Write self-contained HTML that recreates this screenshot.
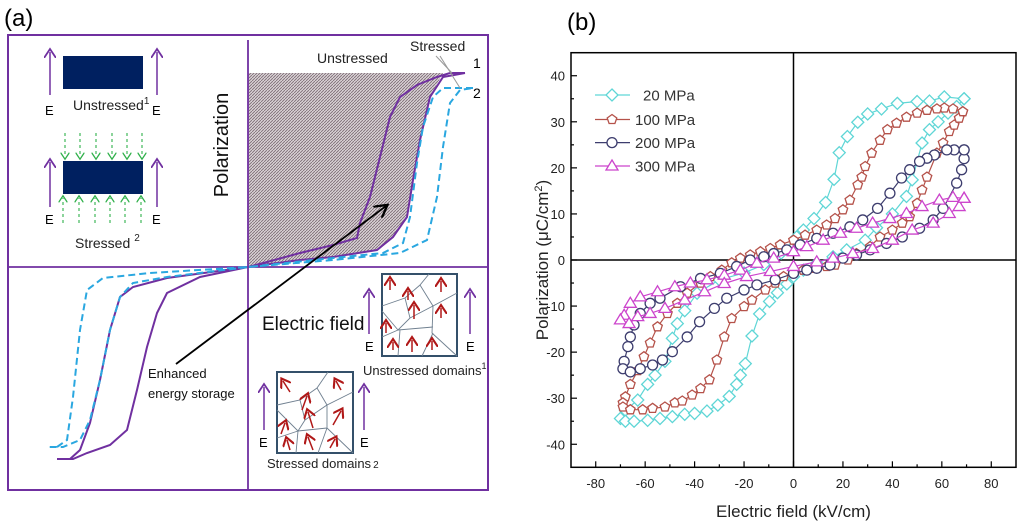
<!DOCTYPE html>
<html><head><meta charset="utf-8"><style>
html,body{margin:0;padding:0;background:#fff;}
svg{display:block;font-family:"Liberation Sans",Arial,sans-serif;}
</style></head><body>
<svg id="fig" width="1024" height="527" viewBox="0 0 1024 527">
<defs>
<pattern id="hatch" width="3" height="3" patternUnits="userSpaceOnUse"><rect width="3" height="3" fill="#d8d0d4"/><path d="M0,3 L3,0" stroke="#7a6a72" stroke-width="0.8"/></pattern>
<marker id="ah" markerWidth="8" markerHeight="8" refX="6" refY="4" orient="auto"><path d="M0,0 L7,4 L0,8" fill="none" stroke="#000" stroke-width="1.3"/></marker>
<marker id="ahp" markerWidth="8" markerHeight="8" refX="4" refY="4" orient="auto"><path d="M0,0 L6,4 L0,8" fill="none" stroke="#7030A0" stroke-width="1.2"/></marker>
<marker id="ahr" markerWidth="8" markerHeight="8" refX="4" refY="4" orient="auto"><path d="M0,0 L6,4 L0,8" fill="none" stroke="#b01818" stroke-width="1.4"/></marker>
<marker id="ahg" markerWidth="8" markerHeight="8" refX="4" refY="4" orient="auto"><path d="M0,0 L6,4 L0,8" fill="none" stroke="#2fb04a" stroke-width="1.2"/></marker>
</defs>

<!-- Panel (a) -->
<g>
<text x="4" y="26" font-size="24" font-family="Liberation Sans">(a)</text>
<rect x="8" y="35" width="480" height="455" fill="none" stroke="#7030A0" stroke-width="2"/>
<polygon points="248,73 443,73 430,97 420,140 413,180 407,217 393,237 377,250 333,257 300,260 248,267" fill="url(#hatch)"/>
<line x1="248" y1="40" x2="248" y2="490" stroke="#7030A0" stroke-width="1.8"/>
<line x1="8" y1="267" x2="488" y2="267" stroke="#7030A0" stroke-width="1.8"/>
<path d="M465,73 L450,73 L437,77 L417,85 L400,97 L390,117 L380,157 L370,197 L360,223 L357,238 L333,245 L300,253 L267,262 L248,267 L200,277 L167,293 L157,313 L147,347 L137,390 L127,430 L110,445 L87,453 L73,459 L57,459 M70,459 L80,450 L90,423 L100,380 L110,330 L120,297 L133,287 L167,278 L248,267 L300,260 L333,257 L377,250 L393,237 L407,217 L413,180 L420,140 L430,97 L443,77 L465,73" fill="none" stroke="#7030A0" stroke-width="2"/>
<path d="M473,88 L443,88 L433,97 L423,127 L417,163 L410,217 L403,243 L383,253 L333,258 L248,267 L167,277 L133,283 L120,297 L110,330 L100,380 L90,420 L80,440 L63,447 L48,447 M57,447 L67,440 L73,397 L80,330 L87,290 L103,278 L150,273 L248,267 L333,260 L400,253 L427,240 L437,197 L443,147 L450,103 L460,90 L473,88" fill="none" stroke="#2aa7e0" stroke-width="2" stroke-dasharray="7,4"/>
<text x="317" y="63" font-size="14" fill="#222">Unstressed</text>
<text x="410" y="51" font-size="14" fill="#222">Stressed</text>
<line x1="436" y1="56" x2="452" y2="73" stroke="#999"/>
<line x1="440" y1="56" x2="460" y2="88" stroke="#999"/>
<text x="473" y="68" font-size="14">1</text>
<text x="473" y="98" font-size="14">2</text>
<text transform="translate(228,145) rotate(-90)" text-anchor="middle" font-size="20" fill="#111">Polarization</text>
<text x="262" y="330" font-size="19" fill="#111">Electric field</text>
<line x1="176" y1="364" x2="386" y2="206" stroke="#000" stroke-width="1.8" marker-end="url(#ah)"/>
<text x="148" y="378" font-size="13" fill="#111">Enhanced</text>
<text x="148" y="398" font-size="13" fill="#111">energy storage</text>

<!-- sample icons -->
<rect x="63" y="56" width="80" height="33" fill="#002060"/>
<line x1="50" y1="95" x2="50" y2="52" stroke="#7030A0" stroke-width="1.5" marker-end="url(#ahp)"/>
<line x1="157" y1="95" x2="157" y2="52" stroke="#7030A0" stroke-width="1.5" marker-end="url(#ahp)"/>
<text x="45" y="115" font-size="13">E</text>
<text x="152" y="115" font-size="13">E</text>
<text x="73" y="110" font-size="14" fill="#222">Unstressed<tspan dy="-6" font-size="10">1</tspan></text>
<rect x="63" y="161" width="80" height="33" fill="#002060"/>
<g stroke="#2fb04a" stroke-width="1.1" stroke-dasharray="3,3">
<line x1="65" y1="133" x2="65" y2="157" marker-end="url(#ahg)"/><line x1="80" y1="133" x2="80" y2="157" marker-end="url(#ahg)"/><line x1="96" y1="133" x2="96" y2="157" marker-end="url(#ahg)"/><line x1="112" y1="133" x2="112" y2="157" marker-end="url(#ahg)"/><line x1="127" y1="133" x2="127" y2="157" marker-end="url(#ahg)"/><line x1="142" y1="133" x2="142" y2="157" marker-end="url(#ahg)"/>
<line x1="63" y1="223" x2="63" y2="198" marker-end="url(#ahg)"/><line x1="79" y1="223" x2="79" y2="198" marker-end="url(#ahg)"/><line x1="95" y1="223" x2="95" y2="198" marker-end="url(#ahg)"/><line x1="110" y1="223" x2="110" y2="198" marker-end="url(#ahg)"/><line x1="125" y1="223" x2="125" y2="198" marker-end="url(#ahg)"/><line x1="141" y1="223" x2="141" y2="198" marker-end="url(#ahg)"/>
</g>
<line x1="50" y1="207" x2="50" y2="162" stroke="#7030A0" stroke-width="1.5" marker-end="url(#ahp)"/>
<line x1="157" y1="207" x2="157" y2="162" stroke="#7030A0" stroke-width="1.5" marker-end="url(#ahp)"/>
<text x="45" y="224" font-size="13">E</text>
<text x="152" y="224" font-size="13">E</text>
<text x="75" y="248" font-size="14" fill="#222">Stressed<tspan dx="4" dy="-7" font-size="10">2</tspan></text>

<!-- domain boxes -->
<g>
<rect x="382" y="274" width="75" height="82" fill="#fff" stroke="#34506a" stroke-width="2"/>
<path d="M382,306 L405,298 L420,285 L429,274 M420,285 L433,306 L457,293 M405,298 L410,318 L433,306 L432,333 L457,356 M382,311 L398,330 L410,318 M398,330 L382,337 M398,330 L433,327 M400,330 L398,356 M433,333 L422,356" fill="none" stroke="#708090" stroke-width="0.9"/>
<g stroke="#b01818" stroke-width="1.5">
<line x1="390" y1="290" x2="390" y2="280" marker-end="url(#ahr)"/><line x1="441" y1="292" x2="441" y2="281" marker-end="url(#ahr)"/><line x1="408" y1="300" x2="408" y2="291" marker-end="url(#ahr)"/><line x1="414" y1="319" x2="414" y2="305" marker-end="url(#ahr)"/><line x1="441" y1="318" x2="441" y2="308" marker-end="url(#ahr)"/><line x1="386" y1="333" x2="386" y2="323" marker-end="url(#ahr)"/><line x1="393" y1="350" x2="393" y2="342" marker-end="url(#ahr)"/><line x1="412" y1="352" x2="412" y2="340" marker-end="url(#ahr)"/><line x1="432" y1="350" x2="432" y2="341" marker-end="url(#ahr)"/>
</g></g>
<line x1="369" y1="334" x2="369" y2="292" stroke="#7030A0" stroke-width="1.5" marker-end="url(#ahp)"/>
<line x1="470" y1="334" x2="470" y2="292" stroke="#7030A0" stroke-width="1.5" marker-end="url(#ahp)"/>
<text x="365" y="351" font-size="13">E</text>
<text x="466" y="351" font-size="13">E</text>
<text x="363" y="375" font-size="13" fill="#222">Unstressed domains<tspan dy="-6" font-size="9">1</tspan></text>
<g>
<rect x="277" y="372" width="76" height="81" fill="#fff" stroke="#34506a" stroke-width="2"/>
<path d="M277,405 L300,400 L317,388 L328,372 M317,388 L327,405 L353,392 M300,400 L305,420 L327,405 L327,428 L353,453 M277,410 L298,431 L305,420 M298,431 L277,438 M298,431 L327,428 M298,431 L296,453 M327,428 L318,453" fill="none" stroke="#708090" stroke-width="0.9"/>
<g stroke="#b01818" stroke-width="1.5">
<line x1="290" y1="392" x2="283" y2="381" marker-end="url(#ahr)"/><line x1="341" y1="390" x2="336" y2="381" marker-end="url(#ahr)"/><line x1="302" y1="410" x2="307" y2="396" marker-end="url(#ahr)"/><line x1="313" y1="428" x2="308" y2="412" marker-end="url(#ahr)"/><line x1="333" y1="425" x2="341" y2="411" marker-end="url(#ahr)"/><line x1="281" y1="434" x2="285" y2="423" marker-end="url(#ahr)"/><line x1="290" y1="450" x2="287" y2="440" marker-end="url(#ahr)"/><line x1="313" y1="450" x2="308" y2="437" marker-end="url(#ahr)"/><line x1="330" y1="448" x2="335" y2="439" marker-end="url(#ahr)"/>
</g></g>
<line x1="264" y1="430" x2="264" y2="387" stroke="#7030A0" stroke-width="1.5" marker-end="url(#ahp)"/>
<line x1="364" y1="430" x2="364" y2="387" stroke="#7030A0" stroke-width="1.5" marker-end="url(#ahp)"/>
<text x="259" y="447" font-size="13">E</text>
<text x="360" y="447" font-size="13">E</text>
<text x="267" y="468" font-size="13" fill="#222">Stressed domains<tspan dx="2" font-size="10">2</tspan></text>
</g>

<!-- Panel (b) -->
<g id="pb">
<text x="567" y="30" font-size="24">(b)</text>
</g>
</svg>
<script>
const xTicks = [-80,-60,-40,-20,0,20,40,60,80];
const yTicks = [-40,-30,-20,-10,0,10,20,30,40];
const seriesNames = ["20 MPa","100 MPa","200 MPa","300 MPa"];
const s20 = [[69,35],[61,35.4],[55,34.5],[50,34.4],[42,34],[35.6,32.8],[30,31.7],[26,29.9],[21.8,26.8],[18.5,23.3],[16.4,17.5],[13,12.5],[8.3,9],[4,6.5],[1.3,5],[-5,1.5],[-12,-1],[-20,-2.8],[-30,-4.3],[-39,-7.2],[-44,-11],[-47,-13.8],[-49,-17],[-52,-22],[-56,-25],[-59,-27],[-63,-30.4],[-68,-32.6],[-70,-34.4],[-68,-35],[-64.5,-35],[-59,-34.8],[-54,-34.4],[-49,-34],[-44,-33.5],[-40,-33.3],[-35,-32.8],[-30.6,-31.5],[-26,-29.6],[-23,-27],[-21.5,-25],[-19.5,-22.5],[-16.8,-16.5],[-13.7,-11.7],[-9.7,-9],[-6.5,-7.1],[-2.7,-5.2],[0,-3.6],[4,-2.2],[9.4,-0.7],[16,0.7],[21.5,2.2],[29,4.3],[33.6,7],[40,10],[45.7,13.8],[48,17.4],[52,25.4],[55,28.3],[58.5,30],[62.5,31.9],[66,33.3],[69,35]];
const s100 = [[68.5,32.2],[64.5,32.8],[61,33],[58,32.8],[54,32.5],[50,31.9],[45.7,31],[41.7,29.7],[38,28.3],[35,26],[31.6,23.2],[29,20.3],[27.6,18],[26,16.3],[22.8,13],[20,10.9],[16.8,9],[13.4,7.6],[9.4,6.5],[4.7,5.4],[0,4.3],[-5.4,3.3],[-9.4,2.5],[-13.4,1.8],[-17.5,1.1],[-21.5,0.4],[-25,-0.6],[-29,-2.2],[-33.6,-3.6],[-37.6,-5],[-43,-7.2],[-47,-9.4],[-51,-11.6],[-55,-14.5],[-58,-18],[-60.5,-21],[-63,-24],[-66,-27],[-68,-29.7],[-69,-31],[-69,-31.9],[-66,-32.5],[-61,-32.5],[-57,-32.2],[-52,-31.9],[-48,-31],[-45,-30.6],[-41,-29.3],[-37.6,-27.9],[-34,-26],[-31,-21.7],[-28,-16.7],[-25,-12.7],[-20,-10.1],[-16.8,-8.7],[-11.4,-6.5],[-7.4,-5],[-4,-3.6],[0,-2.9],[4,-2.2],[8,-1.8],[13.4,-1.4],[16.8,-1.1],[22,0],[25.5,1.4],[31,2.9],[35,5],[40,6.5],[44,8],[47,9.4],[50,12.3],[52,15.2],[54,18],[58,23.2],[60.5,25.4],[63,27.9],[65,29.3],[67,30.8],[68.5,32.2]];
const s200 = [[69,23.9],[65,23.9],[62,23.9],[57,22.8],[54,22.1],[51,21.4],[47,19.6],[43.7,17.8],[39,14.5],[34,11.2],[28,8.7],[22.8,7.2],[16,5.8],[9.4,4.7],[2.7,3.3],[-2.7,2.2],[-8,1.4],[-12,0.7],[-17.5,0],[-23,-1.4],[-29.6,-2.9],[-37.6,-4],[-45.7,-5.8],[-54,-8.3],[-58,-9.4],[-62,-11.6],[-64.5,-14.1],[-66,-16.7],[-67,-18.8],[-68.5,-22],[-69,-23.6],[-66,-24.3],[-62,-23.6],[-57,-22.8],[-53,-21.7],[-49,-19.9],[-43,-16.7],[-38,-13.4],[-32,-10.5],[-27,-8.3],[-20,-6.5],[-14.8,-5.4],[-7.4,-4.3],[0,-2.9],[5.4,-2.2],[9.4,-1.8],[14.8,-1.1],[20,0.4],[25.5,1.1],[31,2.2],[37.6,3.6],[44,5],[51,6.9],[56.5,8.7],[60.5,11.2],[66,16.7],[68,19.6],[69,22],[69,23.9]];
const s300 = [[69,13.4],[64.5,13.6],[59,13],[52,11.6],[45.7,10.1],[39,9],[32,8],[25.5,6.9],[19,5.8],[12,4.3],[5.4,2.9],[0,1.8],[-8,0.4],[-14.8,-0.7],[-21.5,-2.2],[-28,-3.3],[-35,-4.3],[-41.7,-5],[-48,-5.8],[-55,-6.9],[-62,-8],[-66,-9.4],[-68.5,-12],[-70,-13],[-66.5,-13.8],[-63,-12.3],[-58,-11.6],[-52,-10.5],[-44,-8.7],[-36,-6.9],[-28,-5.1],[-19,-3.6],[-9.4,-2.5],[0,-1.4],[9.4,-0.4],[16,0.4],[24,1.4],[32,2.5],[40,4.3],[48,6.5],[56.5,8],[63,10.1],[67,11.6],[69,13.4]];

const NS='http://www.w3.org/2000/svg';
const g=document.getElementById('pb');
const X0=571,X1=1016,Y0=52.7,Y1=467.3;
function sx(v){return X0+(v+90)/180*(X1-X0);}
function sy(v){return Y1-(v+45)/90*(Y1-Y0);}
function mk(tag,attrs,parent){const e=document.createElementNS(NS,tag);for(const k in attrs)e.setAttribute(k,attrs[k]);(parent||g).appendChild(e);return e;}

let fr=mk('rect',{x:X0,y:Y0,width:X1-X0,height:Y1-Y0,fill:'none',stroke:'#000','stroke-width':1.5});


let vz=mk('line',{x1:sx(0),x2:sx(0),y1:Y0,y2:Y1,stroke:'#000','stroke-width':1.5});


let hz=mk('line',{x1:X0,x2:X1,y1:sy(0),y2:sy(0),stroke:'#000','stroke-width':1.5});



for(let v=-80;v<=80;v+=10){const major=v%20===0;
 let t=mk('line',{x1:sx(v),x2:sx(v),y1:Y1,y2:Y1-(major?6:3),stroke:'#000','stroke-width':1.2});
 
 }
xTicks.forEach(v=>{let t=mk('text',{x:sx(v),y:488,'text-anchor':'middle','font-size':13,fill:'#222'});t.textContent=v;
 
 });
for(let v=-40;v<=40;v+=5){const major=v%10===0;
 let t=mk('line',{x1:X0,x2:X0+(major?6:3),y1:sy(v),y2:sy(v),stroke:'#000','stroke-width':1.2});
 
 }
yTicks.forEach(v=>{let t=mk('text',{x:565,y:sy(v)+5,'text-anchor':'end','font-size':13,fill:'#222'});t.textContent=v;
 
 });
let xt=mk('text',{x:sx(0),y:517,'text-anchor':'middle','font-size':17,fill:'#222'});xt.textContent='Electric field (kV/cm)';


let yt=mk('text',{transform:'translate(548,260) rotate(-90)','text-anchor':'middle','font-size':17,fill:'#222'});
yt.innerHTML='Polarization (μC/cm<tspan dy="-6" font-size="11">2</tspan><tspan dy="6">)</tspan>';



const colors=['#5fd6d6','#b5524a','#3d3d6e','#cc44cc'];
function marker(type,x,y,c,parent){const r=5;let e;
 if(type===0)e=mk('polygon',{points:`${x},${y-r-1} ${x+r+1},${y} ${x},${y+r+1} ${x-r-1},${y}`},parent);
 else if(type===1){let p=[];for(let i=0;i<5;i++){const a=-Math.PI/2+i*2*Math.PI/5;p.push((x+r*Math.cos(a)).toFixed(1)+','+(y+r*Math.sin(a)).toFixed(1));}e=mk('polygon',{points:p.join(' ')},parent);}
 else if(type===2)e=mk('circle',{cx:x,cy:y,r:r},parent);
 else e=mk('polygon',{points:`${x},${y-r-1} ${x+r+1},${y+r-1} ${x-r-1},${y+r-1}`},parent);
 e.setAttribute('fill','#fff');e.setAttribute('stroke',c);e.setAttribute('stroke-width',1.3);return e;}

[s20,s100,s200,s300].forEach((s,i)=>{
 const sg=mk('g',{});
 
 
 mk('polyline',{points:s.map(p=>sx(p[0]).toFixed(1)+','+sy(p[1]).toFixed(1)).join(' '),fill:'none',stroke:colors[i],'stroke-width':1.2},sg);
 s.forEach(p=>{const m=marker(i,sx(p[0]),sy(p[1]),colors[i],sg);
  
  });
});

const ly=[95,119.5,142.6,166];
seriesNames.forEach((n,i)=>{
 const lg=mk('g',{});
 
 
 mk('line',{x1:595,x2:630,y1:ly[i],y2:ly[i],stroke:colors[i],'stroke-width':1.2},lg);
 marker(i,612,ly[i],colors[i],lg);
 const t=mk('text',{x:i===0?643:635,y:ly[i]+5.5,'font-size':15,fill:'#333'},lg);t.textContent=n;
});
</script>
</body></html>
